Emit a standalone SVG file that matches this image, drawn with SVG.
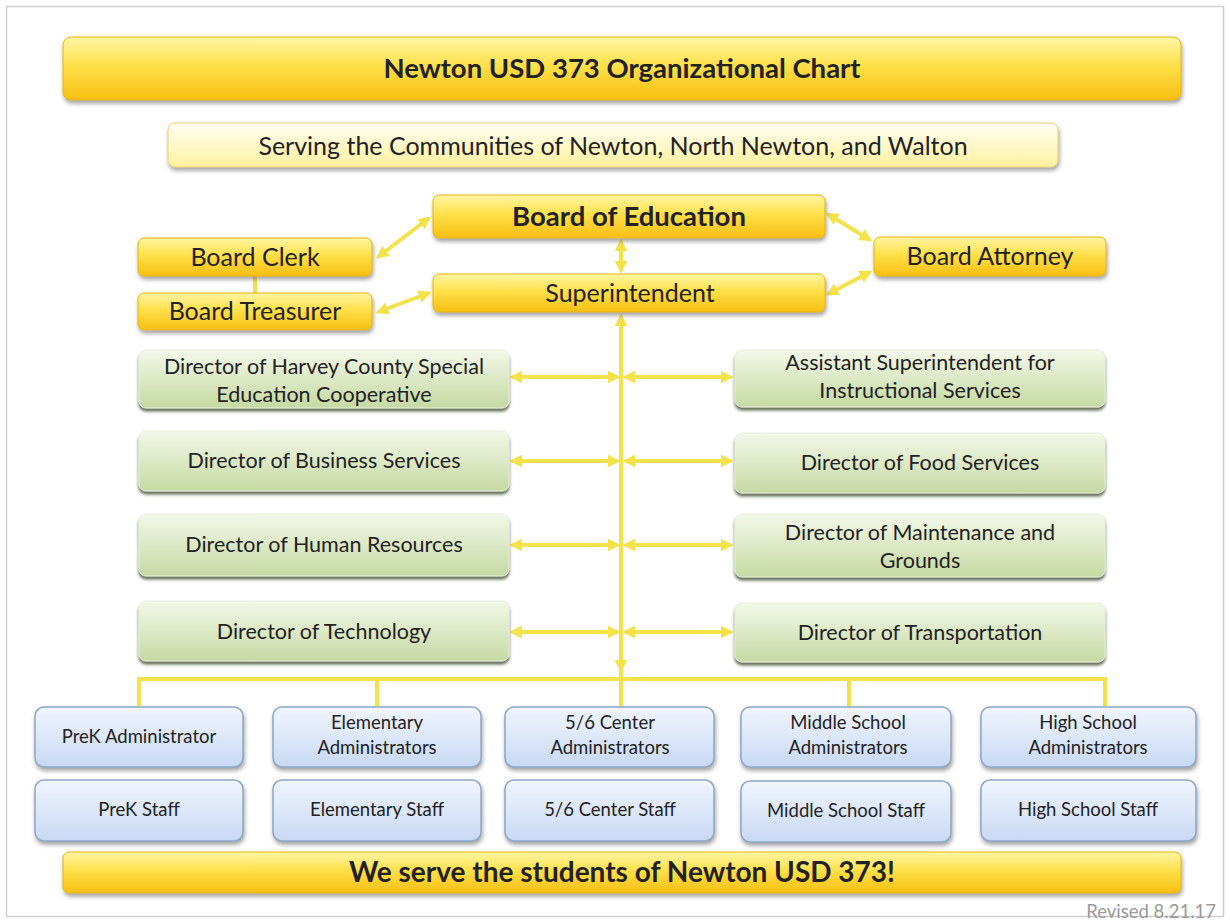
<svg xmlns="http://www.w3.org/2000/svg" width="1230" height="923" viewBox="0 0 1230 923">
<defs>
<linearGradient id="gGold" x1="0" y1="0" x2="0" y2="1">
<stop offset="0" stop-color="#fff6a6"/><stop offset="0.45" stop-color="#ffe04a"/><stop offset="1" stop-color="#f6bf12"/>
</linearGradient>
<linearGradient id="gPale" x1="0" y1="0" x2="0" y2="1">
<stop offset="0" stop-color="#fffef2"/><stop offset="1" stop-color="#fff1a0"/>
</linearGradient>
<linearGradient id="gGreen" x1="0" y1="0" x2="0" y2="1">
<stop offset="0" stop-color="#f3f8e9"/><stop offset="1" stop-color="#c6d9a3"/>
</linearGradient>
<linearGradient id="gBlue" x1="0" y1="0" x2="0" y2="1">
<stop offset="0" stop-color="#f1f5fd"/><stop offset="1" stop-color="#c8d9f4"/>
</linearGradient>
<filter id="sh" x="-10%" y="-20%" width="120%" height="150%">
<feDropShadow dx="1" dy="3" stdDeviation="2" flood-color="#555" flood-opacity="0.55"/>
</filter>
<filter id="shG" x="-10%" y="-20%" width="120%" height="150%">
<feDropShadow dx="0" dy="3" stdDeviation="1.5" flood-color="#3a4a2a" flood-opacity="0.8"/>
</filter>
<marker id="ah" viewBox="0 0 10 10" refX="8" refY="5" markerWidth="3.2" markerHeight="3.2" orient="auto-start-reverse" markerUnits="strokeWidth">
<path d="M0,0 L10,5 L0,10 z" fill="#f3e24a"/>
</marker>
</defs>
<style>
text{font-family:Lato,"Liberation Sans",Arial,sans-serif;text-anchor:middle;fill:#222}
.gold{fill:url(#gGold);stroke:#e8b600;stroke-width:1;filter:url(#sh)}
.pale{fill:url(#gPale);stroke:#e8d27a;stroke-width:1;filter:url(#sh)}
.green{fill:url(#gGreen);stroke:#e8eedc;stroke-width:1;filter:url(#shG)}
.blue{fill:url(#gBlue);stroke:#8fa6c6;stroke-width:1.5;filter:url(#sh)}
.c{fill:none;stroke:#f3e24a;stroke-width:4}
.a{marker-start:url(#ah);marker-end:url(#ah)}
.b{font-weight:bold}
.g{font-size:21.5px}
.s{font-size:18.5px}
.y{font-size:25px}
</style>
<rect x="0" y="0" width="1230" height="923" fill="#ffffff"/>
<rect x="6.5" y="6.5" width="1217" height="910" fill="none" stroke="#cfcfcf" stroke-width="1.5"/>

<g id="connectors">
<line class="c a" x1="378" y1="257" x2="429" y2="218"/>
<line class="c a" x1="378" y1="312" x2="429" y2="293"/>
<line class="c a" x1="828" y1="214" x2="870" y2="240"/>
<line class="c a" x1="828" y1="294" x2="870" y2="272"/>
<line class="c" x1="255" y1="276" x2="255" y2="293"/>
<line class="c a" x1="621" y1="241" x2="621" y2="271"/>
<line class="c a" x1="621" y1="316" x2="621" y2="670"/>
<line class="c" x1="621" y1="660" x2="621" y2="679"/>
<path class="c" d="M139,706 V679 H1105 V706 M377,679 V706 M621,679 V706 M849,679 V706"/>
<line class="c a" x1="512" y1="377" x2="618" y2="377"/>
<line class="c a" x1="625" y1="377" x2="731" y2="377"/>
<line class="c a" x1="512" y1="461" x2="618" y2="461"/>
<line class="c a" x1="625" y1="461" x2="731" y2="461"/>
<line class="c a" x1="512" y1="545" x2="618" y2="545"/>
<line class="c a" x1="625" y1="545" x2="731" y2="545"/>
<line class="c a" x1="512" y1="632" x2="618" y2="632"/>
<line class="c a" x1="625" y1="632" x2="731" y2="632"/>
</g>

<g id="title"><rect class="gold" x="63" y="37" width="1118" height="63" rx="8"/>
<text class="b" x="622" y="78" font-size="27.5">Newton USD 373 Organizational Chart</text></g>
<g id="subtitle"><rect class="pale" x="168" y="123" width="890" height="44" rx="7"/>
<text x="613" y="155" font-size="25">Serving the Communities of Newton, North Newton, and Walton</text></g>
<g id="board-education"><rect class="gold" x="433" y="195" width="392" height="43" rx="6"/>
<text class="b" x="629" y="226" font-size="27.5">Board of Education</text></g>
<g id="superintendent"><rect class="gold" x="433" y="274" width="392" height="38" rx="6"/>
<text class="y" x="630" y="302">Superintendent</text></g>
<g id="board-clerk"><rect class="gold" x="138" y="238" width="234" height="38" rx="6"/>
<text class="y" x="255" y="266">Board Clerk</text></g>
<g id="board-treasurer"><rect class="gold" x="138" y="293" width="234" height="37" rx="6"/>
<text class="y" x="255" y="320">Board Treasurer</text></g>
<g id="board-attorney"><rect class="gold" x="874" y="237" width="232" height="39" rx="6"/>
<text class="y" x="990" y="265">Board Attorney</text></g>

<g id="dir-special-ed"><rect class="green" x="139" y="350" width="370" height="58" rx="7"/>
<text class="g" x="324" y="374">Director of Harvey County Special</text>
<text class="g" x="324" y="402">Education Cooperative</text></g>
<g id="dir-business"><rect class="green" x="139" y="431" width="370" height="60" rx="7"/>
<text class="g" x="324" y="468">Director of Business Services</text></g>
<g id="dir-hr"><rect class="green" x="139" y="514" width="370" height="62" rx="7"/>
<text class="g" x="324" y="552">Director of Human Resources</text></g>
<g id="dir-technology"><rect class="green" x="139" y="601" width="370" height="60" rx="7"/>
<text class="g" x="324" y="639">Director of Technology</text></g>

<g id="asst-super"><rect class="green" x="735" y="350" width="370" height="57" rx="7"/>
<text class="g" x="920" y="370">Assistant Superintendent for</text>
<text class="g" x="920" y="398">Instructional Services</text></g>
<g id="dir-food"><rect class="green" x="735" y="433" width="370" height="60" rx="7"/>
<text class="g" x="920" y="470">Director of Food Services</text></g>
<g id="dir-maintenance"><rect class="green" x="735" y="514" width="370" height="63" rx="7"/>
<text class="g" x="920" y="540">Director of Maintenance and</text>
<text class="g" x="920" y="568">Grounds</text></g>
<g id="dir-transportation"><rect class="green" x="735" y="603" width="370" height="59" rx="7"/>
<text class="g" x="920" y="640">Director of Transportation</text></g>

<g id="prek-admin"><rect class="blue" x="35" y="707" width="208" height="60" rx="9"/>
<text class="s" x="139" y="743">PreK Administrator</text></g>
<g id="elem-admin"><rect class="blue" x="273" y="707" width="208" height="60" rx="9"/>
<text class="s" x="377" y="729">Elementary</text><text class="s" x="377" y="754">Administrators</text></g>
<g id="center-admin"><rect class="blue" x="505" y="707" width="209" height="60" rx="9"/>
<text class="s" x="610" y="729">5/6 Center</text><text class="s" x="610" y="754">Administrators</text></g>
<g id="middle-admin"><rect class="blue" x="741" y="707" width="210" height="60" rx="9"/>
<text class="s" x="848" y="729">Middle School</text><text class="s" x="848" y="754">Administrators</text></g>
<g id="high-admin"><rect class="blue" x="981" y="707" width="215" height="60" rx="9"/>
<text class="s" x="1088" y="729">High School</text><text class="s" x="1088" y="754">Administrators</text></g>

<g id="prek-staff"><rect class="blue" x="35" y="780" width="208" height="61" rx="9"/>
<text class="s" x="139" y="816">PreK Staff</text></g>
<g id="elem-staff"><rect class="blue" x="273" y="780" width="208" height="61" rx="9"/>
<text class="s" x="377" y="816">Elementary Staff</text></g>
<g id="center-staff"><rect class="blue" x="505" y="780" width="209" height="61" rx="9"/>
<text class="s" x="610" y="816">5/6 Center Staff</text></g>
<g id="middle-staff"><rect class="blue" x="741" y="781" width="210" height="61" rx="9"/>
<text class="s" x="846" y="817">Middle School Staff</text></g>
<g id="high-staff"><rect class="blue" x="981" y="780" width="215" height="61" rx="9"/>
<text class="s" x="1088" y="816">High School Staff</text></g>

<g id="footer"><rect class="gold" x="63" y="852" width="1118" height="41" rx="6"/>
<text class="b" x="622" y="882" font-size="28">We serve the students of Newton USD 373!</text></g>
<text x="1216" y="918" font-size="18.5" style="text-anchor:end;fill:#9a9a9a">Revised 8.21.17</text>
</svg>
